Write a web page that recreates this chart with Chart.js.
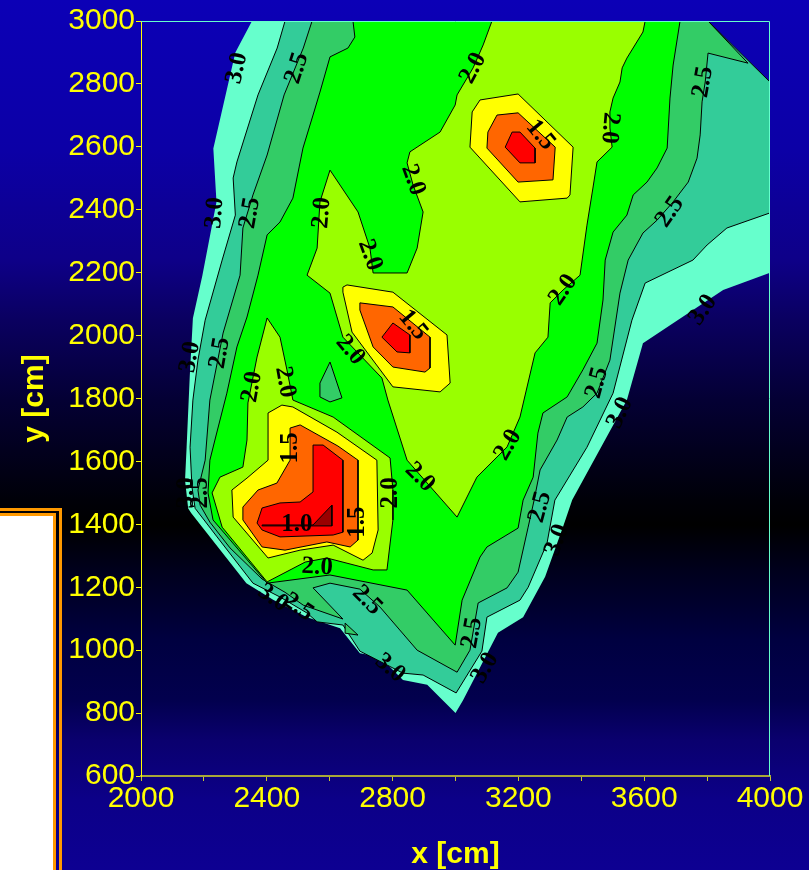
<!DOCTYPE html>
<html>
<head>
<meta charset="utf-8">
<script src="https://cdn.jsdelivr.net/npm/chart.js@4.4.0/dist/chart.umd.min.js"></script>
<style>
  html, body { margin: 0; padding: 0; }
  body {
    width: 809px; height: 870px; overflow: hidden; position: relative;
    background: linear-gradient(to bottom, #0c00b6 0px, #0c00a6 150px, #0e0088 260px, #0a0060 320px,
      #040034 400px, #000008 500px, #000000 525px, #00001c 570px, #000040 640px, #02004e 700px,
      #0a006e 740px, #0c0088 800px, #0d0092 870px);
  }
  #box1 { position: absolute; left: -10px; top: 508px; width: 69px; height: 400px;
    border-top: 3px solid #ff9900; border-right: 3px solid #ff9900; }
  #box2 { position: absolute; left: -10px; top: 513px; width: 63px; height: 400px;
    border-top: 3px solid #ff9900; border-right: 3px solid #ff9900; background: #ffffff; }
  #chart { position: absolute; left: 0; top: 0; }
</style>
</head>
<body>
<div id="box1"></div>
<div id="box2"></div>
<canvas id="chart" width="809" height="870"></canvas>
<script>
// 측정 영역 경계 (값 > 3.0)
const edgeRegion = [[2353,3000],[2300,2900],[2230,2595],[2240,2425],[2195,2190],[2165,2055],[2155,1870],[2145,1645],[2140,1540],[2150,1450],[2160,1435],[2210,1372],[2335,1213],[2420,1160],[2528,1105],[2633,1070],[2696,990],[2760,978],[2833,905],[2910,890],[3000,800],[3024,841],[3135,1055],[3215,1105],[3285,1233],[3342,1392],[3371,1477],[3545,1795],[3596,1976],[3851,2145],[4000,2200],[4000,2806],[3803,3000]];
// 3.0 등고선 안쪽
const contour30 = [[2458,3000],[2433,2914],[2372,2765],[2305,2552],[2293,2501],[2300,2383],[2258,2240],[2204,2049],[2181,1922],[2165,1795],[2156,1645],[2162,1519],[2172,1451],[2242,1360],[2356,1213],[2442,1169],[2528,1118],[2560,1090],[2642,1080],[2696,997],[2833,927],[2897,921],[3002,864],[3084,997],[3100,1105],[3205,1159],[3231,1200],[3291,1340],[3316,1477],[3418,1645],[3501,1817],[3561,2049],[3603,2167],[3755,2240],[3800,2288],[3863,2342],[4000,2390],[4000,2806],[3803,3000]];
// 2.5 등고선 안쪽
const contour25 = [[2544,3000],[2516,2914],[2455,2765],[2401,2574],[2356,2447],[2324,2342],[2315,2192],[2261,2008],[2219,1795],[2204,1604],[2181,1509],[2188,1461],[2219,1407],[2283,1325],[2385,1226],[2458,1184],[2516,1143],[2642,1099],[2547,1198],[2601,1213],[2696,1194],[2760,1137],[2878,1000],[3005,930],[3046,1000],[3072,1150],[3164,1198],[3199,1248],[3231,1391],[3250,1477],[3269,1573],[3323,1668],[3355,1741],[3405,1773],[3450,1817],[3491,1922],[3523,2135],[3549,2240],[3596,2326],[3641,2367],[3692,2425],[3740,2488],[3768,2564],[3778,2638],[3784,2743],[3794,2806],[3803,2898],[3930,2866],[3803,3000]];
// 2.25 등고선 안쪽
const contour225 = [[2674,3000],[2680,2949],[2658,2914],[2601,2886],[2569,2774],[2547,2701],[2515,2596],[2483,2437],[2442,2361],[2401,2320],[2372,2192],[2337,2059],[2305,1964],[2273,1817],[2235,1668],[2219,1604],[2213,1500],[2229,1414],[2401,1213],[2601,1239],[2846,1191],[2999,1016],[3021,1159],[3078,1296],[3100,1328],[3199,1388],[3215,1477],[3247,1550],[3262,1690],[3278,1754],[3355,1805],[3405,1891],[3450,1976],[3469,2113],[3476,2240],[3501,2329],[3545,2383],[3565,2447],[3609,2488],[3641,2533],[3673,2596],[3682,2755],[3692,2860],[3714,3000]];
// 작은 섬 (2.25 ~ 2.5)
const island25a = [[2601,1916],[2639,1802],[2601,1789],[2569,1805],[2569,1849]];
const island25b = [[2649,1086],[2690,1048],[2649,1054]];
// 2.0 등고선 안쪽
const contour20a = [[3116,3000],[3088,2924],[3056,2851],[3005,2765],[2999,2733],[2951,2647],[2855,2584],[2846,2549],[2865,2479],[2897,2393],[2878,2278],[2846,2199],[2738,2199],[2728,2278],[2690,2393],[2601,2526],[2569,2425],[2560,2278],[2528,2192],[2601,2135],[2642,1995],[2766,1865],[2785,1795],[2846,1604],[3005,1423],[3068,1550],[3164,1646],[3205,1741],[3253,1945],[3294,1995],[3301,2104],[3342,2145],[3396,2192],[3418,2351],[3437,2469],[3450,2552],[3498,2599],[3491,2660],[3491,2711],[3501,2755],[3523,2806],[3530,2851],[3545,2882],[3596,2965],[3603,3000]];
const contour20b = [[2401,2056],[2442,1995],[2464,1891],[2483,1795],[2611,1741],[2792,1611],[2801,1509],[2801,1414],[2782,1255],[2738,1255],[2591,1293],[2522,1280],[2401,1217],[2258,1391],[2226,1500],[2251,1550],[2324,1582],[2337,1668],[2340,1786],[2369,1932]];
// 1.75 / 1.5 / 1.25 / 1.0 등고선 (세 개의 극소점)
const contour175a = [[3053,2711],[3078,2749],[3199,2768],[3374,2599],[3364,2447],[3355,2437],[3205,2425],[3046,2599]];
const contour175b = [[2642,2154],[2655,2161],[2801,2138],[2973,2002],[2983,1849],[2951,1821],[2801,1837],[2671,2011],[2642,2138]];
const contour175c = [[2404,1754],[2448,1779],[2483,1773],[2623,1693],[2750,1604],[2754,1382],[2735,1309],[2706,1286],[2611,1334],[2506,1318],[2404,1293],[2293,1423],[2289,1509],[2337,1547],[2404,1604]];
const contour15a = [[3132,2701],[3199,2708],[3317,2599],[3310,2495],[3199,2488],[3100,2596],[3103,2647]];
const contour15b = [[2696,2104],[2801,2091],[2919,1995],[2919,1897],[2903,1884],[2801,1900],[2738,1964],[2696,2081]];
const contour15c = [[2474,1706],[2506,1716],[2626,1649],[2690,1604],[2690,1350],[2665,1328],[2591,1344],[2458,1318],[2385,1328],[2324,1414],[2324,1455],[2372,1509],[2432,1531],[2474,1604]];
const contour125a = [[3180,2647],[3205,2647],[3253,2596],[3253,2549],[3205,2549],[3158,2599]];
const contour125b = [[2766,1995],[2801,2040],[2855,2002],[2855,1945],[2814,1948]];
const contour125c = [[2547,1652],[2579,1652],[2642,1604],[2642,1375],[2611,1366],[2442,1360],[2385,1382],[2369,1404],[2385,1452],[2442,1468],[2506,1471],[2547,1503]];
const contour10 = [[2385,1398],[2547,1398],[2607,1461],[2607,1395],[2385,1395]];

// 등고선 값 라벨
const labelX = [2305,2496,2235,2347,2575,2865,2728,3056,3270,3491,3787,3682,3342,3450,3787,3523,3167,3269,3323,3053,3094,2792,2719,2560,2420,2500,2496,2474,2690,2792,2665,2353,2458,2887,2156,2251,2146,2188,2865];
const labelY = [2850,2850,2390,2390,2390,2495,2256,2850,2638,2660,2806,2393,2145,1850,2081,1754,1652,1455,1350,1055,943,943,1159,1264,1166,1137,1398,1643,1407,1500,1954,1837,1852,1550,1932,1945,1500,1500,2034];
const labelText = ['3.0','2.5','3.0','2.5','2.0','2.0','2.0','2.0','1.5','2.0','2.5','2.5','2.0','2.5','3.0','3.0','2.0','2.5','3.0','2.5','3.0','3.0','2.5','2.0','3.0','2.5','1.0','1.5','1.5','2.0','2.0','2.0','2.0','2.0','3.0','2.5','3.0','2.5','1.5'];
const labelAngle = [-78,-72,-85,-80,-85,70,70,-62,50,95,-80,-55,-55,-75,-55,-65,-60,-75,-70,-80,-60,40,45,3,35,35,0,-90,-90,-90,50,-80,80,45,-80,-80,-90,-90,50];

// 바깥쪽부터 안쪽 순서
const regions = [
  [edgeRegion, '#66ffcc', 0],
  [contour30, '#33cc99', 1],
  [contour25, '#33cc66', 1],
  [contour225, '#00ff00', 1],
  [island25a, '#33cc66', 1],
  [island25b, '#33cc66', 1],
  [contour20a, '#99ff00', 1],
  [contour20b, '#99ff00', 1],
  [contour175a, '#ffff00', 1],
  [contour175b, '#ffff00', 1],
  [contour175c, '#ffff00', 1],
  [contour15a, '#ff6600', 1],
  [contour15b, '#ff6600', 1],
  [contour15c, '#ff6600', 1],
  [contour125a, '#ff0000', 1],
  [contour125b, '#ff0000', 1],
  [contour125c, '#ff0000', 1],
  [contour10, '#990000', 1]
];

const datasets = regions.map((r, i) => {
  const pts = r[0].map(p => ({ x: p[0], y: p[1] }));
  pts.push({ x: r[0][0][0], y: r[0][0][1] });  // 닫힌 도형
  return {
    data: pts,
    showLine: true,
    fill: 'shape',
    backgroundColor: r[1],
    borderColor: '#000000',
    borderWidth: r[2],
    pointRadius: 0,
    pointHoverRadius: 0,
    tension: 0,
    order: regions.length - i
  };
});

// 등고선 라벨과 위/오른쪽 테두리
const overlay = {
  id: 'overlay',
  afterDatasetsDraw(chart) {
    const ctx = chart.ctx;
    const a = chart.chartArea;
    const xs = chart.scales.x, ys = chart.scales.y;
    ctx.save();
    ctx.fillStyle = '#000000';
    ctx.font = 'bold 25px "Liberation Serif"';
    ctx.textAlign = 'center';
    ctx.textBaseline = 'middle';
    labelText.forEach((t, i) => {
      ctx.save();
      ctx.translate(xs.getPixelForValue(labelX[i]), ys.getPixelForValue(labelY[i]));
      ctx.rotate(labelAngle[i] * Math.PI / 180);
      ctx.fillText(t, 0, 0);
      ctx.restore();
    });
    ctx.strokeStyle = '#66ffcc';
    ctx.lineWidth = 1;
    ctx.beginPath();
    ctx.moveTo(a.left, a.top + 0.5);
    ctx.lineTo(a.right - 0.5, a.top + 0.5);
    ctx.lineTo(a.right - 0.5, a.bottom);
    ctx.stroke();
    ctx.restore();
  }
};

new Chart(document.getElementById('chart'), {
  type: 'scatter',
  data: { datasets: datasets },
  options: {
    responsive: false,
    animation: false,
    devicePixelRatio: 1,
    events: [],
    layout: { padding: { top: 21, right: 39, bottom: 0, left: 0 } },
    plugins: { legend: { display: false }, tooltip: { enabled: false } },
    scales: {
      x: {
        type: 'linear',
        min: 2000,
        max: 4000,
        afterFit: s => { s.height = 94; s.paddingLeft = 0; s.paddingRight = 0; },
        border: { color: '#a8a838', width: 2 },
        grid: { drawOnChartArea: false, drawTicks: true, tickLength: 5, tickColor: '#c8c830' },
        ticks: {
          stepSize: 200,
          autoSkip: false,
          maxRotation: 0,
          padding: 0,
          color: '#ffff00',
          font: { family: '"Liberation Sans"', size: 30 },
          callback: v => (v % 400 === 0 ? String(v) : '')
        },
        title: {
          display: true,
          text: 'x [cm]',
          color: '#ffff00',
          padding: { top: 0, bottom: 0 },
          font: { family: '"Liberation Sans"', size: 30, weight: 'bold', lineHeight: 1 }
        }
      },
      y: {
        type: 'linear',
        min: 600,
        max: 3000,
        afterFit: s => { s.width = 141; s.paddingTop = 0; s.paddingBottom = 0; },
        border: { color: '#ffff00', width: 1 },
        grid: { drawOnChartArea: false, drawTicks: true, tickLength: 5, tickColor: '#ffff00' },
        ticks: {
          stepSize: 200,
          autoSkip: false,
          padding: 1,
          color: '#ffff00',
          font: { family: '"Liberation Sans"', size: 30 },
          callback: v => String(v)
        },
        title: {
          display: true,
          text: 'y [cm]',
          color: '#ffff00',
          padding: { top: 20, bottom: 0 },
          font: { family: '"Liberation Sans"', size: 30, weight: 'bold', lineHeight: 1 }
        }
      }
    }
  },
  plugins: [overlay]
});
</script>
</body>
</html>
